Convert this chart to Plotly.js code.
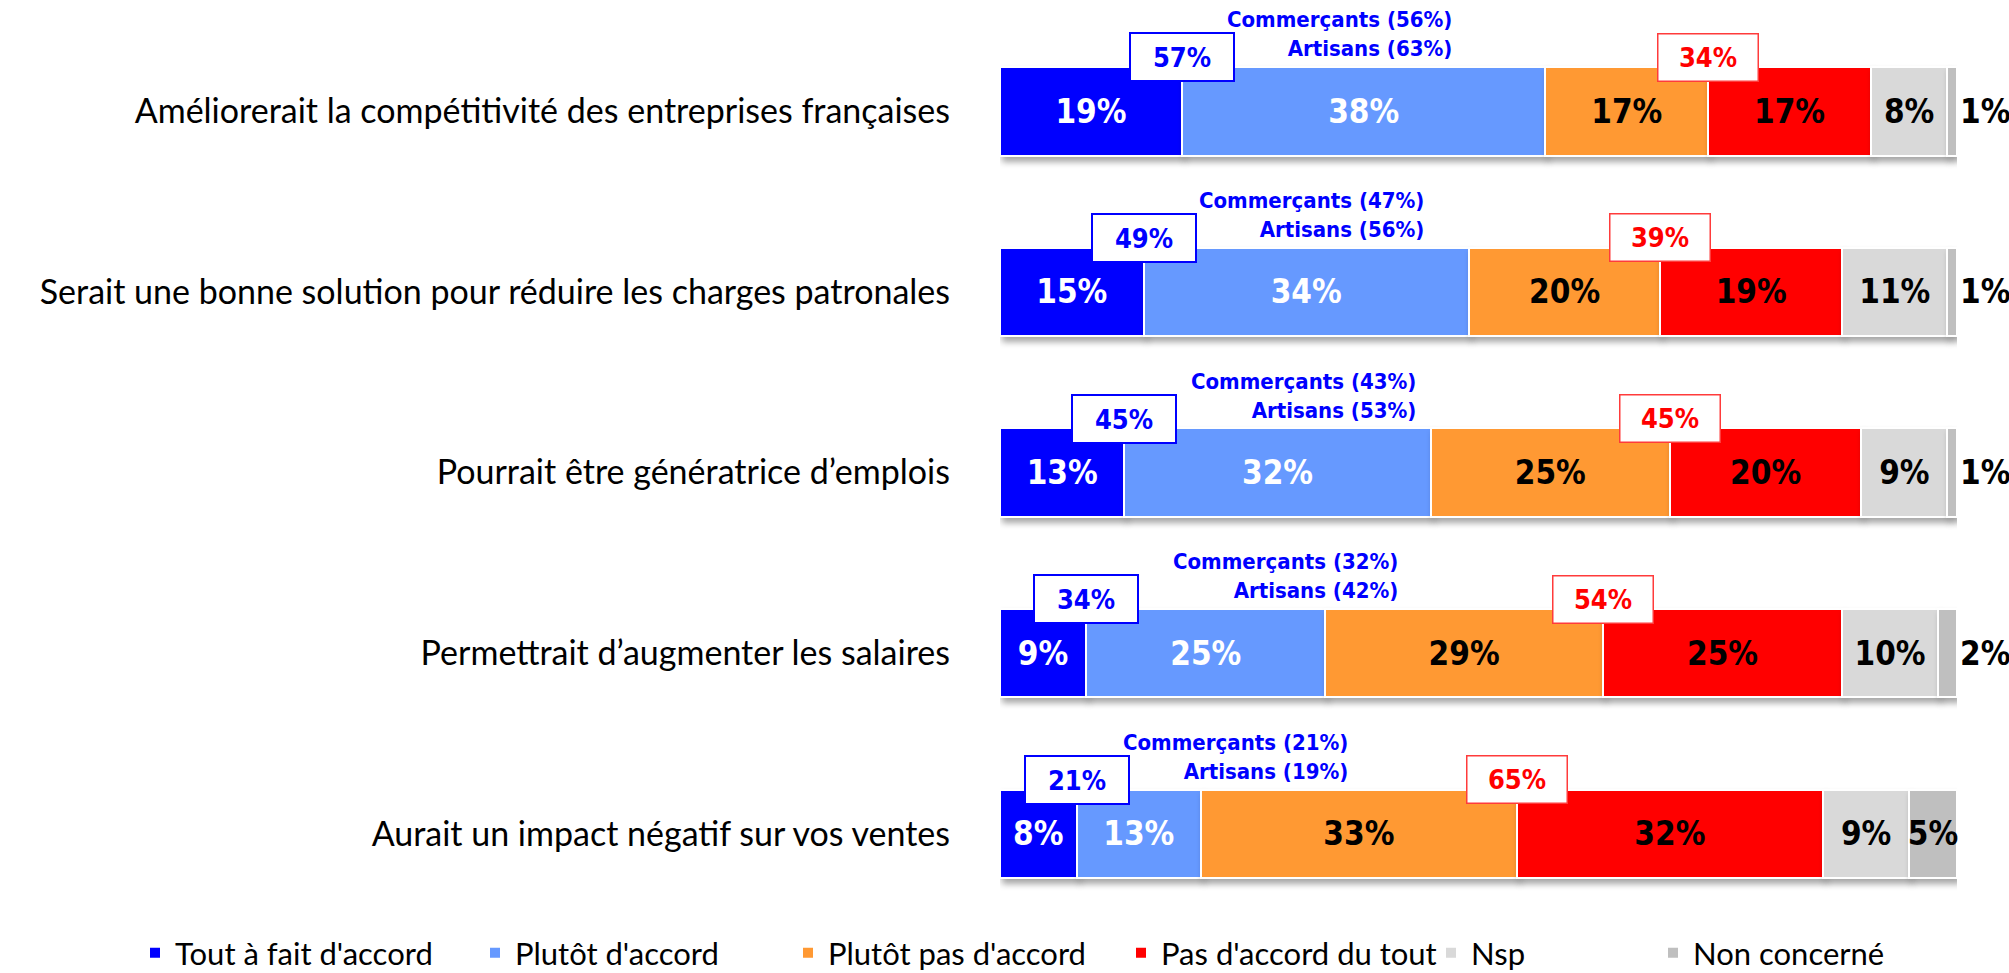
<!DOCTYPE html>
<html><head><meta charset="utf-8">
<script src="https://cdn.plot.ly/plotly-3.0.1.min.js"></script>
<style>
html,body{margin:0;padding:0;background:#fff;}
#chart{width:2009px;height:973px;}
#chart .barlayer .point path{filter:drop-shadow(3px 5px 3px rgba(0,0,0,0.35));}
</style></head><body><div id="chart"></div><script>
const categories = [
  "Améliorerait la compétitivité des entreprises françaises",
  "Serait une bonne solution pour réduire les charges patronales",
  "Pourrait être génératrice d’emplois",
  "Permettrait d’augmenter les salaires",
  "Aurait un impact négatif sur vos ventes"
];
const seriesNames = ["Tout à fait d'accord","Plutôt d'accord","Plutôt pas d'accord","Pas d'accord du tout","Nsp","Non concerné"];
const toutAFait   = [19,15,13,9,8];
const plutotAcc   = [38,34,32,25,13];
const plutotPas   = [17,20,25,29,33];
const pasDuTout   = [17,19,20,25,32];
const nsp         = [8,11,9,10,9];
const nonConcerne = [1,1,1,2,5];
const commercants = [56,47,43,32,21];
const artisans    = [63,56,53,42,19];

// layout-only settings
const colors = ["#0000FF","#6699FF","#FF9933","#FF0000","#D9D9D9","#BFBFBF"];
const textColors = ["#FFFFFF","#FFFFFF","#000000","#000000","#000000","#000000"];
const subLabelRight = [47.4,44.5,43.7,41.8,36.6]; // right edge of "Commerçants/Artisans" notes, in axis %
const legendTextPx = [175,515,828,1161,1471,1693];

const barFont = "DejaVu Sans Condensed, DejaVu Sans, sans-serif";
const labelFont = "Lato, Open Sans, sans-serif";

const allSeries = [toutAFait, plutotAcc, plutotPas, pasDuTout, nsp, nonConcerne];
const traces = allSeries.map((vals, i) => {
  const last = i === allSeries.length - 1;
  return {
    type: "bar", orientation: "h",
    name: seriesNames[i],
    x: vals, y: categories,
    marker: {color: colors[i], line: {color: "#FFFFFF", width: 2}},
    text: vals.map(v => v + "%"),
    textposition: last ? vals.map(v => v < 3 ? "outside" : "inside") : "inside",
    insidetextanchor: "middle",
    textangle: 0,
    constraintext: "none",
    cliponaxis: false,
    textfont: {family: barFont, size: 33, color: textColors[i], weight: "bold"},
    outsidetextfont: {family: barFont, size: 33, color: "#000000", weight: "bold"},
    insidetextfont: {family: barFont, size: 33, color: textColors[i], weight: "bold"},
    hoverinfo: "skip",
    legend: i === 0 ? "legend" : "legend" + (i + 1)
  };
});

const annotations = [];
categories.forEach((c, r) => {
  annotations.push({
    x: toutAFait[r], y: c, xref: "x", yref: "y", yshift: 54,
    text: (toutAFait[r] + plutotAcc[r]) + "%", showarrow: false,
    width: 100, height: 44, bgcolor: "#FFFFFF", bordercolor: "#0000FF", borderwidth: 2,
    font: {family: barFont, size: 27, color: "#0000FF", weight: "bold"}
  });
  annotations.push({
    x: toutAFait[r] + plutotAcc[r] + plutotPas[r], y: c, xref: "x", yref: "y", yshift: 54,
    text: (plutotPas[r] + pasDuTout[r]) + "%", showarrow: false,
    width: 97, height: 44, bgcolor: "#FFFFFF", bordercolor: "#FF3B3B", borderwidth: 1.5,
    font: {family: barFont, size: 27, color: "#FF0000", weight: "bold"}
  });
  annotations.push({
    x: subLabelRight[r], y: c, xref: "x", yref: "y", yshift: 77,
    xanchor: "right", yanchor: "middle", align: "right",
    text: "Commerçants (" + commercants[r] + "%)<br>Artisans (" + artisans[r] + "%)",
    showarrow: false,
    font: {family: barFont, size: 22, color: "#0000FF", weight: "bold"}
  });
});

// plot area spans from y=21 to the bottom edge (952 px); 180.6 px per category row
const layout = {
  width: 2009, height: 973,
  margin: {l: 1000, r: 52, t: 21, b: 0, pad: 0, autoexpand: false},
  paper_bgcolor: "#FFFFFF", plot_bgcolor: "rgba(0,0,0,0)",
  barmode: "stack", bargap: 0.51,
  showlegend: true,
  xaxis: {range: [0, 100], visible: false, fixedrange: true},
  yaxis: {
    type: "category", range: [4.771, -0.5], showgrid: false, zeroline: false, showline: false,
    ticks: "", ticklabelstandoff: 49,
    tickfont: {family: labelFont, size: 34, color: "#000000"}
  },
  annotations: annotations
};
legendTextPx.forEach((px, i) => {
  layout[i === 0 ? "legend" : "legend" + (i + 1)] = {
    orientation: "h", x: (px - 40 - 1000) / 957, xanchor: "left",
    y: 0.021, yanchor: "middle", bgcolor: "rgba(0,0,0,0)",
    font: {family: labelFont, size: 31, color: "#000000"}
  };
});

Plotly.newPlot("chart", traces, layout, {displayModeBar: false, staticPlot: true});
</script></body></html>
